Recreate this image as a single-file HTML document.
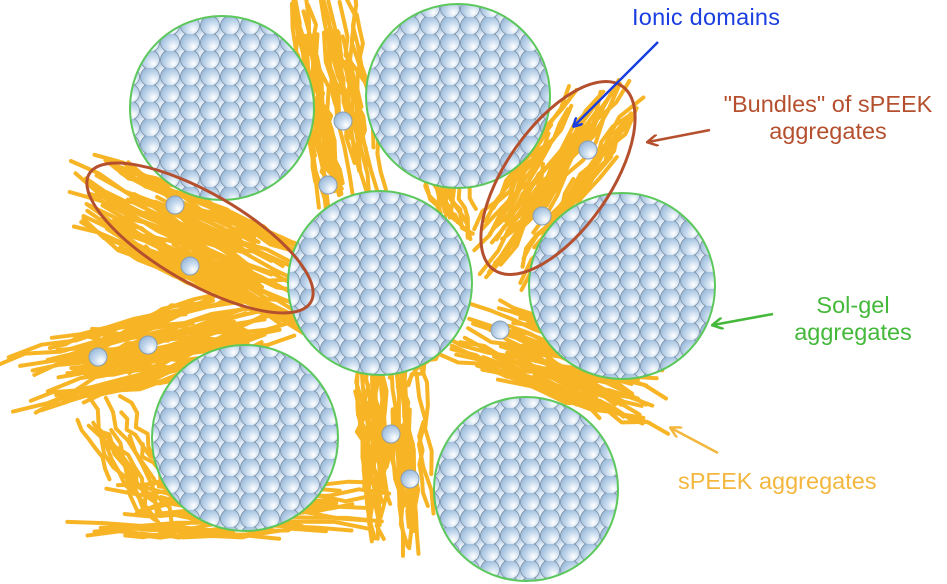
<!DOCTYPE html>
<html><head><meta charset="utf-8"><style>
html,body{margin:0;padding:0;background:#fff;width:947px;height:584px;overflow:hidden}
text{font-family:"Liberation Sans",sans-serif}
</style></head><body>
<svg id="s" width="947" height="584" viewBox="0 0 947 584" xmlns="http://www.w3.org/2000/svg">
<defs>
<radialGradient id="bg" cx="0.68" cy="0.72" r="0.8">
<stop offset="0" stop-color="#ffffff"/><stop offset="0.45" stop-color="#c9dcef"/><stop offset="1" stop-color="#94b6d8"/>
</radialGradient>
<pattern id="pb" width="20" height="17" patternUnits="userSpaceOnUse">
<rect width="20" height="17" fill="#a9c0d6"/>
<circle cx="0" cy="0" r="9" fill="url(#bg)" stroke="#7f93a8" stroke-width="0.8"/>
<circle cx="20" cy="0" r="9" fill="url(#bg)" stroke="#7f93a8" stroke-width="0.8"/>
<circle cx="0" cy="17" r="9" fill="url(#bg)" stroke="#7f93a8" stroke-width="0.8"/>
<circle cx="20" cy="17" r="9" fill="url(#bg)" stroke="#7f93a8" stroke-width="0.8"/>
<circle cx="10" cy="8.5" r="9.5" fill="url(#bg)" stroke="#7f93a8" stroke-width="0.8"/>
</pattern>
<marker id="ab" markerWidth="10" markerHeight="10" refX="8" refY="5" orient="auto" markerUnits="userSpaceOnUse"><path d="M0,0 L9,5 L0,10" fill="none" stroke="#1a3ee0" stroke-width="2.5"/></marker>
<marker id="ar" markerWidth="12" markerHeight="12" refX="10" refY="6" orient="auto" markerUnits="userSpaceOnUse"><path d="M0,0 L11,6 L0,12" fill="none" stroke="#b5502f" stroke-width="2.5"/></marker>
<marker id="ag" markerWidth="12" markerHeight="12" refX="10" refY="6" orient="auto" markerUnits="userSpaceOnUse"><path d="M0,0 L11,6 L0,12" fill="none" stroke="#44b83a" stroke-width="2.5"/></marker>
<marker id="ao" markerWidth="12" markerHeight="12" refX="10" refY="6" orient="auto" markerUnits="userSpaceOnUse"><path d="M0,0 L11,6 L0,12" fill="none" stroke="#f3b73e" stroke-width="2.5"/></marker>
</defs>
<g id="fib" stroke="#f7b526" stroke-width="4" fill="none" stroke-linecap="round" stroke-linejoin="round"></g>
<g id="circ" stroke="#5cc85c" stroke-width="2" fill="url(#pb)">
<circle cx="222" cy="108" r="92"/>
<circle cx="458" cy="96" r="92"/>
<circle cx="380" cy="283" r="92"/>
<circle cx="622" cy="286" r="93"/>
<circle cx="245" cy="438" r="93"/>
<circle cx="526" cy="489" r="92"/>
</g>
<g fill="url(#bg)" stroke="#8a9db0" stroke-width="1">
<circle cx="343" cy="121" r="9"/><circle cx="328" cy="185" r="9"/><circle cx="175" cy="205" r="9"/>
<circle cx="190" cy="266" r="9"/><circle cx="98" cy="357" r="9"/><circle cx="148" cy="345" r="9"/>
<circle cx="588" cy="150" r="9"/><circle cx="542" cy="216" r="9"/><circle cx="500" cy="330" r="9"/>
<circle cx="391" cy="434" r="9"/><circle cx="410" cy="479" r="9"/>
</g>
<ellipse cx="200" cy="238" rx="128" ry="45" transform="rotate(30 200 238)" fill="none" stroke="#b5502f" stroke-width="3"/>
<ellipse cx="558" cy="178" rx="112" ry="52" transform="rotate(-55 558 178)" fill="none" stroke="#b5502f" stroke-width="3"/>
<line x1="658" y1="42" x2="574" y2="126" stroke="#1a3ee0" stroke-width="2.5" marker-end="url(#ab)"/>
<line x1="710" y1="130" x2="648" y2="142" stroke="#b5502f" stroke-width="2.5" marker-end="url(#ar)"/>
<line x1="773" y1="314" x2="713" y2="325" stroke="#44b83a" stroke-width="2.5" marker-end="url(#ag)"/>
<line x1="718" y1="453" x2="671" y2="428" stroke="#f3b73e" stroke-width="2.5" marker-end="url(#ao)"/>
<text x="632" y="25" font-size="23.5" fill="#1a3ee0" textLength="148">Ionic domains</text>
<text x="828" y="112" font-size="23.5" fill="#b5502f" text-anchor="middle">"Bundles" of sPEEK</text>
<text x="828" y="139" font-size="23.5" fill="#b5502f" text-anchor="middle">aggregates</text>
<text x="853" y="313" font-size="23.5" fill="#44b83a" text-anchor="middle">Sol-gel</text>
<text x="853" y="340" font-size="23.5" fill="#44b83a" text-anchor="middle">aggregates</text>
<text x="678" y="489" font-size="23.5" fill="#f3b73e">sPEEK aggregates</text>
</svg>
<script>
(function(){
var seed=7;function r(){seed=(seed*16807)%2147483647;return seed/2147483647;}
var g=document.getElementById('fib');
var R=[[335,100,200,70,80,40],[195,240,230,80,25,70],[150,350,240,70,-15,60],[558,178,200,80,-55,45],
[565,365,200,70,20,50],[395,450,190,70,85,40],[240,510,250,60,0,30],[450,190,90,40,70,15],[130,460,120,60,60,15],[420,340,80,50,-40,12]];
var h='';
R.forEach(function(a){
 var ang=a[4]*Math.PI/180,c=Math.cos(ang),s=Math.sin(ang);
 for(var i=0;i<a[5];i++){
  var off=(r()-0.5)*a[3],st=(r()-0.5)*a[2]*0.5,L=a[2]*(0.4+r()*0.5);
  var pts=[],n=6;
  for(var k=0;k<=n;k++){
   var t=st-L/2+L*k/n,o=off+(r()-0.5)*10;
   pts.push((a[0]+t*c-o*s).toFixed(1)+','+(a[1]+t*s+o*c).toFixed(1));
  }
  h+='<polyline points="'+pts.join(' ')+'"/>';
 }
});
g.innerHTML=h;
})();
</script>
</body></html>
